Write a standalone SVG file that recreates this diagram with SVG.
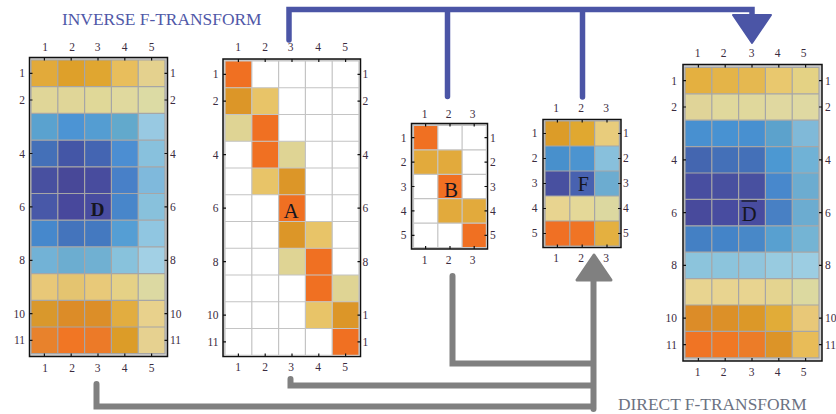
<svg xmlns="http://www.w3.org/2000/svg" width="836" height="414" viewBox="0 0 836 414">
<style>
.t{font-family:"Liberation Serif",serif;font-size:11.5px;fill:#3b2b40;text-anchor:middle}
.l{font-family:"Liberation Serif",serif;font-size:11.5px;fill:#3b2b40;text-anchor:end}
.r{font-family:"Liberation Serif",serif;font-size:11.5px;fill:#3b2b40;text-anchor:start}
.big{font-family:"Liberation Serif",serif;fill:#151520;text-anchor:middle}
.grid{fill:none;stroke:#a6a6a6;stroke-width:1.2}
.wgrid{fill:none;stroke:#c4c4c4;stroke-width:1.2}
.frame{fill:#cfcfcf;stroke:#111;stroke-width:1.5}
.tick{fill:none;stroke:#111;stroke-width:1.2}
.title{font-family:"Liberation Serif",serif;font-size:17.4px}
.blue{fill:none;stroke:#4b55a6;stroke-width:5.5;stroke-linecap:round}
.gray{fill:none;stroke:#808080;stroke-width:6;stroke-linecap:round}
</style>

<text class="title" x="62" y="25" fill="#5058a8">INVERSE F-TRANSFORM</text>
<text class="title" x="618" y="409.5" fill="#6c7282">DIRECT F-TRANSFORM</text>

<g id="connectors">
  <path class="blue" d="M289,40V9.5H752V18M447.5,9.5V96.5M582.5,9.5V97"/>
  <polygon points="733,15 771,15 752,43" fill="#4b55a6" stroke="#4b55a6" stroke-width="2" stroke-linejoin="round"/>
  <path class="gray" d="M96.5,384V406.5H593.5M290.5,379V385.5H593.5M452.5,276V363.5H593.5M593.5,409V278"/>
  <polygon points="577,280 611,280 594,255" fill="#808080" stroke="#808080" stroke-width="3" stroke-linejoin="round"/>
</g>

<g id="D">
  <rect class="frame" x="29.5" y="57.5" width="138" height="299"/>
  <g transform="translate(31,60) scale(26.8,26.7)">
    <rect x="0" y="0" width="1" height="1" fill="#e2aa3a"/><rect x="1" y="0" width="1" height="1" fill="#dea02a"/><rect x="2" y="0" width="1" height="1" fill="#e0a630"/><rect x="3" y="0" width="1" height="1" fill="#e8be5c"/><rect x="4" y="0" width="1" height="1" fill="#e4d18e"/>
    <rect x="0" y="1" width="1" height="1" fill="#e0d698"/><rect x="1" y="1" width="1" height="1" fill="#e0d698"/><rect x="2" y="1" width="1" height="1" fill="#e0d898"/><rect x="3" y="1" width="1" height="1" fill="#e0d99e"/><rect x="4" y="1" width="1" height="1" fill="#dcdba4"/>
    <rect x="0" y="2" width="1" height="1" fill="#5aa2cf"/><rect x="1" y="2" width="1" height="1" fill="#4c94d4"/><rect x="2" y="2" width="1" height="1" fill="#549dd2"/><rect x="3" y="2" width="1" height="1" fill="#62a9cc"/><rect x="4" y="2" width="1" height="1" fill="#98c9e2"/>
    <rect x="0" y="3" width="1" height="1" fill="#4470b8"/><rect x="1" y="3" width="1" height="1" fill="#4456a6"/><rect x="2" y="3" width="1" height="1" fill="#4465b2"/><rect x="3" y="3" width="1" height="1" fill="#4c8ed2"/><rect x="4" y="3" width="1" height="1" fill="#88c1dd"/>
    <rect x="0" y="4" width="1" height="1" fill="#4850a0"/><rect x="1" y="4" width="1" height="1" fill="#484898"/><rect x="2" y="4" width="1" height="1" fill="#484c9e"/><rect x="3" y="4" width="1" height="1" fill="#4880c8"/><rect x="4" y="4" width="1" height="1" fill="#7fb9dc"/>
    <rect x="0" y="5" width="1" height="1" fill="#4858a8"/><rect x="1" y="5" width="1" height="1" fill="#48489c"/><rect x="2" y="5" width="1" height="1" fill="#484ca0"/><rect x="3" y="5" width="1" height="1" fill="#4886ca"/><rect x="4" y="5" width="1" height="1" fill="#88c1dc"/>
    <rect x="0" y="6" width="1" height="1" fill="#4688cc"/><rect x="1" y="6" width="1" height="1" fill="#4474bc"/><rect x="2" y="6" width="1" height="1" fill="#4479c0"/><rect x="3" y="6" width="1" height="1" fill="#559ed4"/><rect x="4" y="6" width="1" height="1" fill="#90c6e1"/>
    <rect x="0" y="7" width="1" height="1" fill="#72b2d6"/><rect x="1" y="7" width="1" height="1" fill="#6cadd0"/><rect x="2" y="7" width="1" height="1" fill="#70b0d2"/><rect x="3" y="7" width="1" height="1" fill="#88c2dc"/><rect x="4" y="7" width="1" height="1" fill="#a2d0e5"/>
    <rect x="0" y="8" width="1" height="1" fill="#e8c878"/><rect x="1" y="8" width="1" height="1" fill="#e4c470"/><rect x="2" y="8" width="1" height="1" fill="#e8c979"/><rect x="3" y="8" width="1" height="1" fill="#e5d186"/><rect x="4" y="8" width="1" height="1" fill="#dcd9a2"/>
    <rect x="0" y="9" width="1" height="1" fill="#d9982c"/><rect x="1" y="9" width="1" height="1" fill="#dc8c28"/><rect x="2" y="9" width="1" height="1" fill="#dc8e28"/><rect x="3" y="9" width="1" height="1" fill="#e2ad40"/><rect x="4" y="9" width="1" height="1" fill="#e8d18c"/>
    <rect x="0" y="10" width="1" height="1" fill="#e8822c"/><rect x="1" y="10" width="1" height="1" fill="#f17624"/><rect x="2" y="10" width="1" height="1" fill="#ec7a28"/><rect x="3" y="10" width="1" height="1" fill="#dc9c28"/><rect x="4" y="10" width="1" height="1" fill="#e6d190"/>
    <path class="grid" vector-effect="non-scaling-stroke" d="M0,0H5V11H0ZM1,0V11M2,0V11M3,0V11M4,0V11M0,1H5M0,2H5M0,3H5M0,4H5M0,5H5M0,6H5M0,7H5M0,8H5M0,9H5M0,10H5"/>
  </g>
  <path class="tick" d="M44.4,57.5v3M71.2,57.5v3M98,57.5v3M124.8,57.5v3M151.6,57.5v3M44.4,356.5v-3M71.2,356.5v-3M98,356.5v-3M124.8,356.5v-3M151.6,356.5v-3M29.5,73.4h3M29.5,100h3M29.5,153.5h3M29.5,206.9h3M29.5,260.3h3M29.5,313.7h3M29.5,340.4h3M167.5,73.4h-3M167.5,100h-3M167.5,153.5h-3M167.5,206.9h-3M167.5,260.3h-3M167.5,313.7h-3M167.5,340.4h-3"/>
  <text class="t" x="45" y="51">1</text><text class="t" x="72" y="51">2</text><text class="t" x="97.5" y="51">3</text><text class="t" x="124.5" y="51">4</text><text class="t" x="151.5" y="51">5</text>
  <text class="t" x="45" y="372">1</text><text class="t" x="72" y="372">2</text><text class="t" x="97.5" y="372">3</text><text class="t" x="124.5" y="372">4</text><text class="t" x="151.5" y="372">5</text>
  <text class="l" x="25" y="77.4">1</text><text class="l" x="25" y="104">2</text><text class="l" x="25" y="157.5">4</text><text class="l" x="25" y="211">6</text><text class="l" x="25" y="264.3">8</text><text class="l" x="25" y="317.7">10</text><text class="l" x="25" y="344.4">11</text>
  <text class="r" x="170" y="77.4">1</text><text class="r" x="170" y="104">2</text><text class="r" x="170" y="157.5">4</text><text class="r" x="170" y="211">6</text><text class="r" x="170" y="264.3">8</text><text class="r" x="170" y="317.7">10</text><text class="r" x="170" y="344.4">11</text>
  <text class="big" x="97.5" y="216" font-size="19" font-weight="bold">D</text>
</g>

<g id="A">
  <rect class="frame" x="223" y="59" width="137.5" height="297.5" fill="#dcdcdc"/>
  <g transform="translate(225,61) scale(26.8,26.75)">
    <rect x="0" y="0" width="5" height="11" fill="#fff"/>
    <rect x="0" y="0" width="1" height="1" fill="#f07022"/>
    <rect x="0" y="1" width="1" height="1" fill="#dc9628"/><rect x="1" y="1" width="1" height="1" fill="#e8c468"/>
    <rect x="0" y="2" width="1" height="1" fill="#dfd494"/><rect x="1" y="2" width="1" height="1" fill="#f07022"/>
    <rect x="1" y="3" width="1" height="1" fill="#f07022"/><rect x="2" y="3" width="1" height="1" fill="#dfd494"/>
    <rect x="1" y="4" width="1" height="1" fill="#e8c468"/><rect x="2" y="4" width="1" height="1" fill="#dc9628"/>
    <rect x="2" y="5" width="1" height="1" fill="#f07022"/>
    <rect x="2" y="6" width="1" height="1" fill="#dc9628"/><rect x="3" y="6" width="1" height="1" fill="#e8c468"/>
    <rect x="2" y="7" width="1" height="1" fill="#dfd494"/><rect x="3" y="7" width="1" height="1" fill="#f07022"/>
    <rect x="3" y="8" width="1" height="1" fill="#f07022"/><rect x="4" y="8" width="1" height="1" fill="#dfd494"/>
    <rect x="3" y="9" width="1" height="1" fill="#e8c468"/><rect x="4" y="9" width="1" height="1" fill="#dc9628"/>
    <rect x="4" y="10" width="1" height="1" fill="#f07022"/>
    <path class="wgrid" vector-effect="non-scaling-stroke" d="M0,0H5V11H0ZM1,0V11M2,0V11M3,0V11M4,0V11M0,1H5M0,2H5M0,3H5M0,4H5M0,5H5M0,6H5M0,7H5M0,8H5M0,9H5M0,10H5"/>
  </g>
  <path class="tick" d="M238.4,59v3M265.2,59v3M292,59v3M318.8,59v3M345.6,59v3M238.4,356.5v-3M265.2,356.5v-3M292,356.5v-3M318.8,356.5v-3M345.6,356.5v-3M223,74.4h3M223,101.1h3M223,154.6h3M223,208.1h3M223,261.6h3M223,315.1h3M223,341.9h3M360.5,74.4h-3M360.5,101.1h-3M360.5,154.6h-3M360.5,208.1h-3M360.5,261.6h-3M360.5,315.1h-3M360.5,341.9h-3"/>
  <text class="t" x="238" y="51">1</text><text class="t" x="265" y="51">2</text><text class="t" x="290.5" y="51">3</text><text class="t" x="318" y="51">4</text><text class="t" x="345" y="51">5</text>
  <text class="t" x="238" y="371">1</text><text class="t" x="265" y="371">2</text><text class="t" x="291" y="371">3</text><text class="t" x="318" y="371">4</text><text class="t" x="345" y="371">5</text>
  <text class="l" x="218.5" y="78.4">1</text><text class="l" x="218.5" y="105.1">2</text><text class="l" x="218.5" y="158.6">4</text><text class="l" x="218.5" y="212.1">6</text><text class="l" x="218.5" y="265.6">8</text><text class="l" x="218.5" y="319.1">10</text><text class="l" x="218.5" y="345.9">11</text>
  <text class="r" x="362.5" y="78.4">1</text><text class="r" x="362.5" y="105.1">2</text><text class="r" x="362.5" y="158.6">4</text><text class="r" x="362.5" y="212.1">6</text><text class="r" x="362.5" y="265.6">8</text><text class="r" x="362.5" y="319.1">1</text><text class="r" x="362.5" y="345.9">1</text>
  <text class="big" x="291" y="218" font-size="21">A</text>
</g>

<g id="B">
  <rect class="frame" x="411.5" y="123.5" width="76" height="125.5" fill="#dcdcdc"/>
  <g transform="translate(413.5,125.5) scale(24.3,24.4)">
    <rect x="0" y="0" width="3" height="5" fill="#fff"/>
    <rect x="0" y="0" width="1" height="1" fill="#f07022"/>
    <rect x="0" y="1" width="1" height="1" fill="#e2aa3c"/><rect x="1" y="1" width="1" height="1" fill="#e2aa3c"/>
    <rect x="1" y="2" width="1" height="1" fill="#f07022"/>
    <rect x="1" y="3" width="1" height="1" fill="#e2aa3c"/><rect x="2" y="3" width="1" height="1" fill="#e2aa3c"/>
    <rect x="2" y="4" width="1" height="1" fill="#f07022"/>
    <path class="wgrid" vector-effect="non-scaling-stroke" d="M0,0H3V5H0ZM1,0V5M2,0V5M0,1H3M0,2H3M0,3H3M0,4H3"/>
  </g>
  <path class="tick" d="M425.6,123.5v3M450,123.5v3M474.2,123.5v3M425.6,249v-3M450,249v-3M474.2,249v-3M411.5,137.7h3M411.5,162.1h3M411.5,186.5h3M411.5,210.9h3M411.5,235.3h3M487.5,137.7h-3M487.5,162.1h-3M487.5,186.5h-3M487.5,210.9h-3M487.5,235.3h-3"/>
  <text class="t" x="424.5" y="117.5">1</text><text class="t" x="448.5" y="117.5">2</text><text class="t" x="472.5" y="117.5">3</text>
  <text class="t" x="424.5" y="263.5">1</text><text class="t" x="448.5" y="263.5">2</text><text class="t" x="472.5" y="263.5">3</text>
  <text class="l" x="406.5" y="141.7">1</text><text class="l" x="406.5" y="166.1">2</text><text class="l" x="406.5" y="190.5">3</text><text class="l" x="406.5" y="214.9">4</text><text class="l" x="406.5" y="239.3">5</text>
  <text class="r" x="490" y="141.7">1</text><text class="r" x="490" y="166.1">2</text><text class="r" x="490" y="190.5">3</text><text class="r" x="490" y="214.9">4</text><text class="r" x="490" y="239.3">5</text>
  <text class="big" x="451" y="197" font-size="21">B</text>
</g>

<g id="F">
  <rect class="frame" x="543" y="119.5" width="78" height="128"/>
  <g transform="translate(545,121) scale(24.8,25)">
    <rect x="0" y="0" width="1" height="1" fill="#dc9c28"/><rect x="1" y="0" width="1" height="1" fill="#e0a830"/><rect x="2" y="0" width="1" height="1" fill="#e8cc7c"/>
    <rect x="0" y="1" width="1" height="1" fill="#4890cc"/><rect x="1" y="1" width="1" height="1" fill="#4c94d0"/><rect x="2" y="1" width="1" height="1" fill="#88c0dc"/>
    <rect x="0" y="2" width="1" height="1" fill="#4850a0"/><rect x="1" y="2" width="1" height="1" fill="#4862b0"/><rect x="2" y="2" width="1" height="1" fill="#6cacd0"/>
    <rect x="0" y="3" width="1" height="1" fill="#e8d490"/><rect x="1" y="3" width="1" height="1" fill="#e4d898"/><rect x="2" y="3" width="1" height="1" fill="#dcd8a0"/>
    <rect x="0" y="4" width="1" height="1" fill="#f07024"/><rect x="1" y="4" width="1" height="1" fill="#f07424"/><rect x="2" y="4" width="1" height="1" fill="#e4b040"/>
    <path class="grid" vector-effect="non-scaling-stroke" d="M0,0H3V5H0ZM1,0V5M2,0V5M0,1H3M0,2H3M0,3H3M0,4H3"/>
  </g>
  <path class="tick" d="M557.4,119.5v3M582.2,119.5v3M607,119.5v3M557.4,247.5v-3M582.2,247.5v-3M607,247.5v-3M543,133.5h3M543,158.5h3M543,183.5h3M543,208.5h3M543,233.5h3M621,133.5h-3M621,158.5h-3M621,183.5h-3M621,208.5h-3M621,233.5h-3"/>
  <text class="t" x="556" y="111.7">1</text><text class="t" x="581" y="111.7">2</text><text class="t" x="606" y="111.7">3</text>
  <text class="t" x="556" y="261.7">1</text><text class="t" x="581" y="261.7">2</text><text class="t" x="606" y="261.7">3</text>
  <text class="l" x="537.5" y="137">1</text><text class="l" x="537.5" y="162">2</text><text class="l" x="537.5" y="187">3</text><text class="l" x="537.5" y="212">4</text><text class="l" x="537.5" y="237">5</text>
  <text class="r" x="623" y="137">1</text><text class="r" x="623" y="162">2</text><text class="r" x="623" y="187">3</text><text class="r" x="623" y="212">4</text><text class="r" x="623" y="237">5</text>
  <text class="big" x="583.3" y="190.7" font-size="20">F</text>
</g>

<g id="Dbar">
  <rect class="frame" x="683" y="64.5" width="139" height="296.5" stroke-width="2.5"/>
  <g transform="translate(685,67.4) scale(26.8,26.4)">
    <rect x="0" y="0" width="1" height="1" fill="#e4b040"/><rect x="1" y="0" width="1" height="1" fill="#e4b448"/><rect x="2" y="0" width="1" height="1" fill="#e5b850"/><rect x="3" y="0" width="1" height="1" fill="#e9c86e"/><rect x="4" y="0" width="1" height="1" fill="#e4d284"/>
    <rect x="0" y="1" width="1" height="1" fill="#e0d498"/><rect x="1" y="1" width="1" height="1" fill="#e0d89c"/><rect x="2" y="1" width="1" height="1" fill="#e0d89c"/><rect x="3" y="1" width="1" height="1" fill="#e0d8a0"/><rect x="4" y="1" width="1" height="1" fill="#dfd9a2"/>
    <rect x="0" y="2" width="1" height="1" fill="#4890d0"/><rect x="1" y="2" width="1" height="1" fill="#4892d2"/><rect x="2" y="2" width="1" height="1" fill="#4890d0"/><rect x="3" y="2" width="1" height="1" fill="#5ca2cc"/><rect x="4" y="2" width="1" height="1" fill="#80b9d8"/>
    <rect x="0" y="3" width="1" height="1" fill="#4466b0"/><rect x="1" y="3" width="1" height="1" fill="#4470b8"/><rect x="2" y="3" width="1" height="1" fill="#4470b8"/><rect x="3" y="3" width="1" height="1" fill="#4c98d2"/><rect x="4" y="3" width="1" height="1" fill="#70b2d6"/>
    <rect x="0" y="4" width="1" height="1" fill="#484ea0"/><rect x="1" y="4" width="1" height="1" fill="#4850a0"/><rect x="2" y="4" width="1" height="1" fill="#4850a0"/><rect x="3" y="4" width="1" height="1" fill="#4888cc"/><rect x="4" y="4" width="1" height="1" fill="#6cacd0"/>
    <rect x="0" y="5" width="1" height="1" fill="#484a9c"/><rect x="1" y="5" width="1" height="1" fill="#484ca0"/><rect x="2" y="5" width="1" height="1" fill="#484ca0"/><rect x="3" y="5" width="1" height="1" fill="#4880c4"/><rect x="4" y="5" width="1" height="1" fill="#6cacd0"/>
    <rect x="0" y="6" width="1" height="1" fill="#4480c4"/><rect x="1" y="6" width="1" height="1" fill="#4484c8"/><rect x="2" y="6" width="1" height="1" fill="#4888c8"/><rect x="3" y="6" width="1" height="1" fill="#58a0d0"/><rect x="4" y="6" width="1" height="1" fill="#74b4d4"/>
    <rect x="0" y="7" width="1" height="1" fill="#8cc4dc"/><rect x="1" y="7" width="1" height="1" fill="#8cc4dc"/><rect x="2" y="7" width="1" height="1" fill="#90c5dd"/><rect x="3" y="7" width="1" height="1" fill="#98cbe0"/><rect x="4" y="7" width="1" height="1" fill="#9ccde2"/>
    <rect x="0" y="8" width="1" height="1" fill="#e8d490"/><rect x="1" y="8" width="1" height="1" fill="#e8d490"/><rect x="2" y="8" width="1" height="1" fill="#e8d490"/><rect x="3" y="8" width="1" height="1" fill="#e4d490"/><rect x="4" y="8" width="1" height="1" fill="#dcd9a0"/>
    <rect x="0" y="9" width="1" height="1" fill="#dc8c28"/><rect x="1" y="9" width="1" height="1" fill="#dc9028"/><rect x="2" y="9" width="1" height="1" fill="#dc9828"/><rect x="3" y="9" width="1" height="1" fill="#e1ac38"/><rect x="4" y="9" width="1" height="1" fill="#e8c878"/>
    <rect x="0" y="10" width="1" height="1" fill="#f07424"/><rect x="1" y="10" width="1" height="1" fill="#f07824"/><rect x="2" y="10" width="1" height="1" fill="#ec7c28"/><rect x="3" y="10" width="1" height="1" fill="#dc9428"/><rect x="4" y="10" width="1" height="1" fill="#e8bc58"/>
    <path class="grid" vector-effect="non-scaling-stroke" d="M0,0H5V11H0ZM1,0V11M2,0V11M3,0V11M4,0V11M0,1H5M0,2H5M0,3H5M0,4H5M0,5H5M0,6H5M0,7H5M0,8H5M0,9H5M0,10H5"/>
  </g>
  <path class="tick" d="M698.4,64.5v3M725.2,64.5v3M752,64.5v3M778.8,64.5v3M805.6,64.5v3M698.4,361v-3M725.2,361v-3M752,361v-3M778.8,361v-3M805.6,361v-3M683,80.6h3M683,107h3M683,159.8h3M683,212.6h3M683,265.4h3M683,318.2h3M683,344.6h3M822,80.6h-3M822,107h-3M822,159.8h-3M822,212.6h-3M822,265.4h-3M822,318.2h-3M822,344.6h-3"/>
  <text class="t" x="697.5" y="56.5">1</text><text class="t" x="723.5" y="56.5">2</text><text class="t" x="751.5" y="56.5">3</text><text class="t" x="777.5" y="56.5">4</text><text class="t" x="803.5" y="56.5">5</text>
  <text class="t" x="697.5" y="376">1</text><text class="t" x="723.5" y="376">2</text><text class="t" x="751.5" y="376">3</text><text class="t" x="777.5" y="376">4</text><text class="t" x="803.5" y="376">5</text>
  <text class="l" x="677" y="84.6">1</text><text class="l" x="677" y="111">2</text><text class="l" x="677" y="163.8">4</text><text class="l" x="677" y="216.6">6</text><text class="l" x="677" y="269.4">8</text><text class="l" x="677" y="322.2">10</text><text class="l" x="677" y="348.6">11</text>
  <text class="r" x="825" y="84.6">1</text><text class="r" x="825" y="111">2</text><text class="r" x="825" y="163.8">4</text><text class="r" x="825" y="216.6">6</text><text class="r" x="825" y="269.4">8</text><text class="r" x="825" y="322.2">10</text><text class="r" x="825" y="348.6">11</text>
  <text class="big" x="749" y="221" font-size="21">D</text>
  <path d="M741.5,201H757" stroke="#151520" stroke-width="1.3"/>
</g>
</svg>
